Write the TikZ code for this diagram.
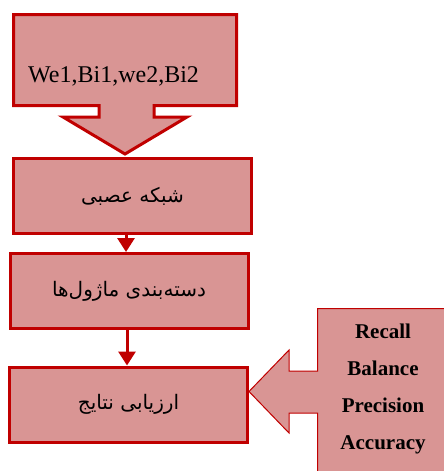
\documentclass[tikz,border=0pt]{standalone}
\usepackage{fontspec}
\setmainfont{Liberation Serif}
\newfontfamily\farsifont[Script=Arabic]{DejaVu Sans}
\TeXXeTstate=1
\usetikzlibrary{arrows.meta}
\definecolor{boxfill}{HTML}{D99594}
\definecolor{boxline}{HTML}{C00000}

\begin{document}
\begin{tikzpicture}[x=1pt,y=-1pt,
  stage/.style={rectangle,draw=boxline,fill=boxfill,line width=3pt,minimum width=238pt,minimum height=75pt,inner sep=0pt,font=\farsifont\fontsize{20}{24}\selectfont},
  flow/.style={draw=boxline,line width=3pt,-{Triangle[length=14pt,width=17pt]}},
  callout/.style={draw=boxline,fill=boxfill}]
\clip (0,0) rectangle (444,471);
%input arrow callout
\path[callout,line width=3pt] (13.5,14.5)--(236.5,14.5)--(236.5,105.5)--(154,105.5)--(154,117)--(187,117)
  --(125,154)--(63,117)--(99,117)--(99,105.5)--(13.5,105.5)--cycle;
\node(params)[anchor=base west,inner sep=0pt,font=\fontsize{24}{28}\selectfont] at (28,82){We1,Bi1,we2,Bi2};
\path (132.5,196) node(net)[stage]{\beginR شبکه عصبی\endR}
(129,291) node(cls)[stage]{\beginR دسته‌بندی ماژول‌ها\endR}
(128.5,404.5) node(eval)[stage]{\beginR ارزیابی نتایج\endR};
\draw[flow]([xshift=-6.5pt]net.south)--([xshift=-6.5pt]net.south|-cls.north);
\draw[flow]([xshift=-2pt]cls.south)--([xshift=-2pt]cls.south|-eval.north);
%metrics callout
\path[callout,line width=1pt] (317.5,308.5)--(450,308.5)--(450,480)--(317.5,480)--(317.5,413)--(289,413)--(289,433)
  --(249,391.5)--(289,350)--(289,371)--(317.5,371)--cycle;
\node(metrics)[anchor=north,inner sep=0pt,align=center,font=\bfseries\fontsize{21}{37}\selectfont] at (383,323.5)
  {Recall\\Balance\\Precision\\Accuracy};
\end{tikzpicture}
\end{document}
